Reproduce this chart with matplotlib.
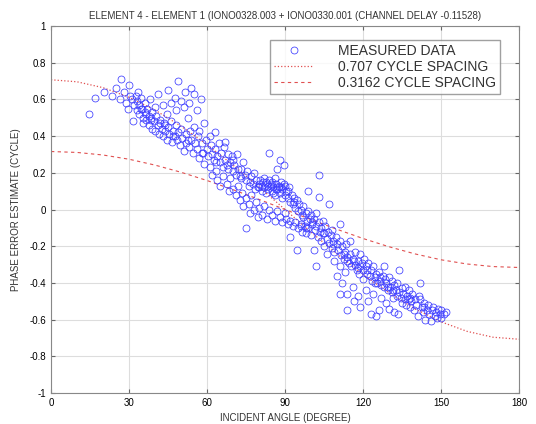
import numpy as np
import matplotlib
matplotlib.use('Agg')
from matplotlib import pyplot as plt
from matplotlib.ticker import FuncFormatter

angle = [
    14.6, 17.0, 20.5, 23.5, 25.0, 26.5, 27.0, 28.0, 29.0, 30.0, 30.5, 29.5,
    31.0, 31.5, 32.0, 32.5, 33.0, 33.0, 33.5, 34.0, 34.0, 34.5, 35.0, 35.5, 35.5, 36.0, 36.0, 36.5,
    37.0, 37.5, 37.5, 38.0, 38.5, 39.0, 39.0, 39.5, 40.0, 40.0,
    40.5, 41.0, 41.0, 41.5, 42.0, 42.5, 43.0, 43.0, 43.5, 44.0, 44.5, 44.5, 45.0, 45.0, 45.5,
    46.0, 46.0, 46.5, 47.0, 47.5, 47.5, 48.0, 48.0, 48.5, 49.0, 49.0, 49.5, 50.0, 50.0,
    50.5, 51.0, 51.0, 51.5, 52.0, 52.0, 52.5, 53.0, 53.0, 53.5, 54.0, 54.0, 54.5, 55.0, 55.0,
    55.5, 56.0, 56.0, 56.5, 57.0, 57.0, 57.5, 58.0, 58.5, 59.0, 59.0, 59.5, 60.0,
    60.5, 61.0, 61.0, 61.5, 62.0, 62.0, 62.5, 63.0, 63.0, 63.5, 64.0, 64.0, 64.5, 65.0, 65.0,
    65.5, 66.0, 66.0, 66.5, 67.0, 67.0, 67.5, 68.0, 68.0, 68.5, 69.0, 69.0, 69.5, 70.0, 70.0, 70.0,
    70.5, 71.0, 71.0, 71.5, 72.0, 72.0, 72.5, 73.0, 73.0, 73.5, 74.0, 74.0, 74.5, 75.0, 75.0, 75.0,
    75.5, 76.0, 76.0, 76.5, 77.0, 77.0, 77.5, 78.0, 78.0, 78.5, 79.0, 79.0, 79.5, 80.0, 80.0, 80.0,
    80.5, 81.0, 81.0, 81.0, 81.5, 82.0, 82.0, 82.0, 82.5, 83.0, 83.0, 83.5, 84.0, 84.0, 84.0,
    84.5, 85.0, 85.0, 85.0, 85.5, 86.0, 86.0, 86.0, 86.5, 87.0, 87.0, 87.0, 87.5, 88.0, 88.0, 88.0,
    88.5, 89.0, 89.0, 89.0, 89.5, 90.0, 90.0, 90.0, 90.5, 91.0, 91.0, 91.0, 91.5, 92.0, 92.0, 92.0,
    92.5, 93.0, 93.0, 93.5, 94.0, 94.0, 94.5, 94.5, 95.0, 95.0, 95.5, 96.0, 96.0, 96.5, 97.0, 97.0,
    97.5, 98.0, 98.0, 98.5, 99.0, 99.0, 99.0, 99.5, 100.0, 100.0, 100.5, 101.0, 101.0, 101.5,
    102.0, 102.0, 102.0, 102.5, 103.0, 103.0, 103.0, 103.5, 104.0, 104.0, 104.5, 105.0, 105.0,
    105.5, 106.0, 106.0, 106.5, 107.0, 107.0, 107.5, 108.0, 108.0, 108.5, 109.0, 109.0, 109.5,
    110.0, 110.0, 110.5, 111.0, 111.0, 111.0, 111.0, 111.5, 112.0, 112.0, 112.5, 113.0, 113.0,
    113.5, 114.0, 114.0, 114.0, 114.5, 115.0, 115.0, 115.5, 116.0, 116.0, 116.5, 117.0, 117.0,
    117.5, 118.0, 118.0, 118.5, 119.0, 119.0, 119.0, 119.5, 120.0, 120.0,
    120.5, 121.0, 121.0, 121.5, 122.0, 122.0, 122.5, 123.0, 123.0, 123.5, 124.0, 124.0, 124.5,
    125.0, 125.0, 125.5, 126.0, 126.0, 126.5, 127.0, 127.0, 127.5, 128.0, 128.0, 128.5, 129.0,
    129.0, 129.5, 130.0, 130.0, 130.5, 131.0, 131.0, 131.5, 132.0, 132.0, 132.5, 133.0, 133.0,
    133.5, 134.0, 134.0, 134.5, 135.0, 135.0,
    135.5, 136.0, 136.0, 136.5, 137.0, 137.5, 138.0, 138.0, 138.5, 139.0, 139.5, 140.0, 140.5,
    141.0, 141.5, 142.0, 142.0, 142.5, 143.0, 143.5, 144.0, 144.5, 145.0, 145.5, 146.0, 146.5,
    147.0, 147.5, 148.0, 148.5, 149.0, 149.5, 150.0, 150.0, 151.0, 152.0,
    # extra points filling the dense parts of the bands
    34.5, 36.5, 38.5, 42.0, 44.0, 47.0, 52.5, 58.0, 63.5, 67.5, 72.5, 76.5, 79.5, 83.5, 86.5,
    88.5, 90.5, 93.5, 96.5, 100.5, 104.5, 108.5, 112.5, 116.5, 121.5, 126.5, 131.5, 137.5, 143.5,
    84.5, 85.5, 87.5, 89.5, 82.5, 96.0, 98.0, 114.0, 118.0, 124.5, 129.5,
]
phase = [
    0.52, 0.61, 0.64, 0.62, 0.66, 0.60, 0.71, 0.64, 0.58, 0.68, 0.62, 0.55,
    0.60, 0.48, 0.57, 0.62, 0.59, 0.54, 0.64, 0.52, 0.57, 0.61, 0.55, 0.50, 0.47, 0.58, 0.53, 0.49,
    0.55, 0.51, 0.46, 0.60, 0.49, 0.53, 0.44, 0.48, 0.43, 0.56,
    0.51, 0.63, 0.46, 0.41, 0.49, 0.44, 0.57, 0.40, 0.47, 0.43, 0.52, 0.38, 0.65, 0.45, 0.41,
    0.58, 0.48, 0.37, 0.43, 0.61, 0.40, 0.54, 0.46, 0.38, 0.70, 0.42, 0.35, 0.59, 0.44,
    0.39, 0.56, 0.32, 0.64, 0.41, 0.36, 0.50, 0.58, 0.34, 0.43, 0.38, 0.66, 0.31, 0.63, 0.45,
    0.36, 0.33, 0.54, 0.40, 0.43, 0.28, 0.60, 0.36, 0.31, 0.47, 0.25, 0.38, 0.33,
    0.29, 0.40, 0.23, 0.35, 0.30, 0.19, 0.27, 0.42, 0.33, 0.21, 0.29, 0.16, 0.36, 0.26, 0.13,
    0.31, 0.23, 0.18, 0.34, 0.37, 0.27, 0.14, 0.22, 0.30, 0.10, 0.26, 0.17, 0.29, 0.21, 0.11, 0.27,
    0.24, 0.19, 0.08, 0.30, 0.22, 0.13, 0.05, 0.22, 0.17, 0.09, 0.26, 0.02, 0.19, 0.16, -0.10, 0.06,
    0.21, 0.13, 0.03, -0.02, 0.18, 0.08, 0.14, 0.20, 0.00, 0.11, 0.16, 0.04, -0.04, 0.14, 0.12, 0.01,
    0.16, 0.13, 0.10, -0.03, 0.15, 0.12, 0.17, 0.02, 0.09, 0.14, -0.05, 0.11, 0.16, 0.31, 0.00,
    0.13, 0.10, 0.15, -0.03, 0.12, 0.17, 0.08, -0.06, 0.14, 0.11, 0.22, -0.01, 0.13, 0.27, 0.09, -0.04,
    0.15, 0.11, 0.06, -0.07, 0.24, 0.13, 0.08, -0.02, -0.05, 0.10, 0.06, -0.08, 0.12, 0.04, -0.15, -0.06,
    0.08, 0.03, -0.09, 0.06, 0.01, -0.07, 0.05, -0.22, -0.01, -0.10, 0.03, 0.00, -0.08, -0.12, 0.02, -0.04,
    -0.09, -0.02, -0.13, -0.06, 0.10, -0.01, -0.10, -0.05, -0.03, -0.14, -0.08, -0.22, -0.05, -0.11,
    -0.02, -0.09, -0.31, -0.15, 0.19, 0.07, -0.07, -0.12, -0.10, -0.17, -0.06, -0.13, -0.20,
    -0.09, -0.16, -0.24, -0.12, 0.03, -0.18, -0.14, -0.21, -0.11, -0.17, -0.23, -0.28, -0.15,
    -0.19, -0.36, -0.22, -0.08, -0.17, -0.31, -0.46, -0.25, -0.20, -0.40, -0.27, -0.23, -0.34,
    -0.19, -0.26, -0.55, -0.46, -0.29, -0.24, -0.17, -0.31, -0.27, -0.42, -0.50, -0.30, -0.23,
    -0.33, -0.28, -0.47, -0.35, -0.24, -0.31, -0.53, -0.29, -0.33, -0.38,
    -0.27, -0.31, -0.44, -0.35, -0.29, -0.50, -0.36, -0.33, -0.57, -0.39, -0.31, -0.46, -0.37,
    -0.58, -0.35, -0.40, -0.34, -0.55, -0.37, -0.41, -0.48, -0.36, -0.31, -0.42, -0.38, -0.51,
    -0.40, -0.44, -0.37, -0.54, -0.42, -0.39, -0.45, -0.48, -0.41, -0.56, -0.44, -0.40, -0.47,
    -0.57, -0.33, -0.45, -0.48, -0.43, -0.51,
    -0.46, -0.49, -0.42, -0.52, -0.47, -0.44, -0.48, -0.53, -0.50, -0.46, -0.55, -0.49, -0.52,
    -0.58, -0.47, -0.40, -0.49, -0.53, -0.56, -0.51, -0.60, -0.55, -0.52, -0.57, -0.61, -0.55,
    -0.53, -0.58, -0.56, -0.59, -0.54, -0.57, -0.59, -0.55, -0.57, -0.56,
    0.55, 0.52, 0.50, 0.47, 0.46, 0.40, 0.38, 0.31, 0.26, 0.24, 0.18, 0.15, 0.12, 0.13, 0.11,
    0.12, 0.10, 0.04, -0.03, -0.07, -0.13, -0.19, -0.24, -0.28, -0.33, -0.39, -0.44, -0.49, -0.53,
    0.14, 0.09, 0.12, 0.14, 0.15, -0.09, -0.10, -0.28, -0.32, -0.40, -0.42,
]

# theory curves, read every 10 degree
curve_angle = [0, 10, 20, 30, 40, 50, 60, 70, 80, 90, 100, 110, 120, 130, 140, 150, 160, 170, 180]
spacing_707 = [0.707, 0.696, 0.664, 0.612, 0.542, 0.454, 0.354, 0.242, 0.123, 0.0,
               -0.123, -0.242, -0.354, -0.454, -0.542, -0.612, -0.664, -0.696, -0.707]
spacing_3162 = [0.316, 0.311, 0.297, 0.274, 0.242, 0.203, 0.158, 0.108, 0.055, 0.0,
                -0.055, -0.108, -0.158, -0.203, -0.242, -0.274, -0.297, -0.311, -0.316]

x_ticks = [0, 30, 60, 90, 120, 150, 180]
y_ticks = [-1, -0.8, -0.6, -0.4, -0.2, 0, 0.2, 0.4, 0.6, 0.8, 1]

plt.rcParams['font.family'] = ['Liberation Sans', 'DejaVu Sans']

fig = plt.figure(figsize=(5.36, 4.24), dpi=100)
ax = fig.add_axes([51/536, 1-393/424, 468/536, 367/424])

ax.plot(angle, phase, 'o', ls='none', ms=5, mfc='none', mec='#3c3cff', mew=0.55,
        label='MEASURED DATA', zorder=3)
ax.plot(curve_angle, spacing_707, ls=':', color='#e05050', lw=0.9, label='0.707 CYCLE SPACING', zorder=2)
ax.plot(curve_angle, spacing_3162, ls='--', dashes=(3, 3), color='#e05050', lw=0.8,
        label='0.3162 CYCLE SPACING', zorder=2)

ax.set_xlim(0, 180)
ax.set_ylim(-1, 1)
ax.set_xticks(x_ticks)
ax.set_yticks(y_ticks)
ax.yaxis.set_major_formatter(FuncFormatter(lambda v, p: '%g' % round(v, 2)))
ax.tick_params(direction='in', top=True, right=True, labelsize=7, length=3, color='#666666')
ax.grid(True, color='#dddddd', lw=0.8)
for s in ax.spines.values():
    s.set_color('#888888')

ax.set_title('ELEMENT 4 - ELEMENT 1 (IONO0328.003 + IONO0330.001 (CHANNEL DELAY -0.11528)',
             fontsize=7, color='#333333', pad=5)
ax.set_xlabel('INCIDENT ANGLE (DEGREE)', fontsize=7, color='#333333', labelpad=4)
ax.set_ylabel('PHASE ERROR ESTIMATE (CYCLE)', fontsize=7, color='#333333', labelpad=6)

leg = ax.legend(loc='upper right', bbox_to_anchor=(0.975, 0.982), fontsize=10, frameon=True,
                fancybox=False, edgecolor='#888888', handlelength=2.8, labelspacing=0.15,
                borderpad=0.3, handletextpad=1.8)
for t in leg.get_texts():
    t.set_color('#333333')

plt.savefig('out.png', dpi=100)
